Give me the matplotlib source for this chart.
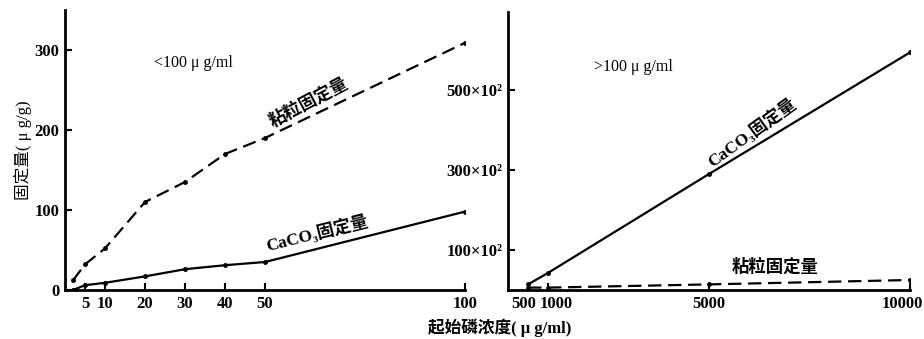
import matplotlib
matplotlib.use('Agg')
import matplotlib.pyplot as plt
from matplotlib.transforms import ScaledTranslation

plt.rcParams['font.family'] = ['Liberation Serif', 'Noto Sans CJK SC', 'DejaVu Sans']
plt.rcParams['font.weight'] = 'bold'

# low concentration (<100 ug/ml)
conc_low = [2, 5, 10, 20, 30, 40, 50, 100]
clay_low = [12, 32, 52, 110, 135, 170, 190, 309]
caco3_low = [0, 6, 9, 17, 26, 31, 35, 98]

# high concentration (>100 ug/ml), y in units of 10^2
conc_high = [500, 1000, 5000, 10000]
clay_high = [6, 6, 14, 25]
caco3_high = [14, 43, 290, 594]

low_ticks = [5, 10, 20, 30, 40, 50, 100]
high_ticks = [500, 1000, 5000, 10000]
high_yticks = [100, 300, 500]
high_ylabels = ['100×10²', '300×10²', '500×10²']

fig = plt.figure(figsize=(9.24, 3.39), dpi=100)
ax1 = fig.add_axes([65/924, 1-290/339, 400/924, 280/339])
ax2 = fig.add_axes([508/924, 1-290/339, 402/924, 278/339])

lw = 1.6
ax1.plot(conc_low, clay_low, color='black', lw=lw, ls=(0, (6, 3)), marker='o', ms=2.5)
ax1.plot(conc_low, caco3_low, color='black', lw=lw, marker='o', ms=2.5)
ax1.set_xlim(0, 100)
ax1.set_ylim(0, 350)
ax1.set_xticks(low_ticks)
ax1.set_yticks([0, 100, 200, 300])
ax1.text(32, 284, '<100 μ g/ml', fontsize=11.5, fontweight='normal', ha='center', va='center')
ax1.text(61, 234, '粘粒固定量', fontsize=12.5, rotation=28, ha='center', va='center')
ax1.text(63, 71, 'CaCO₃固定量', fontsize=12.5, rotation=14, ha='center', va='center')
ax1.set_ylabel('固定量( μ g/g)', fontsize=12, labelpad=2)

ax2.plot(conc_high, caco3_high, color='black', lw=lw, marker='o', ms=2.5)
ax2.plot(conc_high, clay_high, color='black', lw=lw, ls=(0, (6, 3)), marker='o', ms=2.5)
ax2.set_xlim(0, 10000)
ax2.set_ylim(0, 695)
ax2.set_xticks(high_ticks)
ax2.set_yticks(high_yticks)
ax2.set_yticklabels(high_ylabels)
ax2.text(3110, 557, '>100 μ g/ml', fontsize=11.5, fontweight='normal', ha='center', va='center')
ax2.text(6070, 392, 'CaCO₃固定量', fontsize=12.5, rotation=36, ha='center', va='center')
ax2.text(6640, 57, '粘粒固定量', fontsize=12.5, ha='center', va='center')

for ax in (ax1, ax2):
    for s in ('top', 'right'):
        ax.spines[s].set_visible(False)
    for s in ('left', 'bottom'):
        ax.spines[s].set_linewidth(2)
    ax.tick_params(direction='in', length=5, width=1.5, labelsize=12, pad=4)

# spread the crowded 500/1000 labels and keep 10000 inside the figure
shifts = {'500': -4, '1000': 8, '10000': -8}
for lab in ax2.get_xticklabels():
    dx = shifts.get(lab.get_text(), 0)
    lab.set_transform(lab.get_transform() + ScaledTranslation(dx/100, 0, fig.dpi_scale_trans))

fig.text(500/924, 1-328/339, '起始磷浓度( μ g/ml)', fontsize=12, ha='center', va='center')

fig.savefig('out.png', dpi=100)
